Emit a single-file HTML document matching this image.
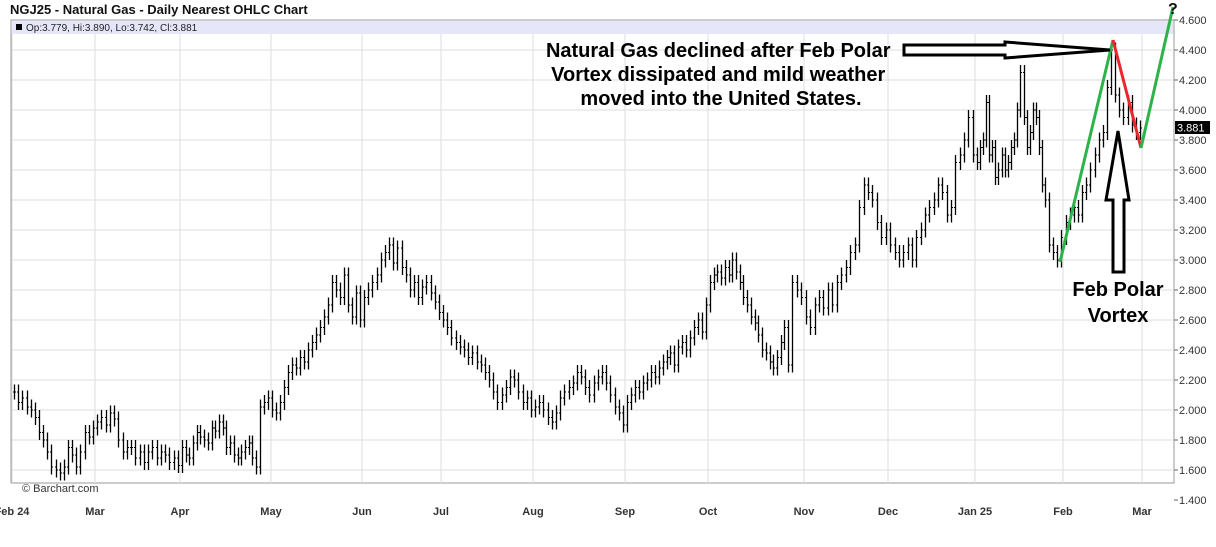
<!DOCTYPE html>
<html><head><meta charset="utf-8"><style>
body{margin:0;background:#fff;font-family:"Liberation Sans",sans-serif;}
svg text{font-family:"Liberation Sans",sans-serif;}
</style></head><body>
<svg width="1216" height="542" xmlns="http://www.w3.org/2000/svg">
<text x="10" y="14" font-size="13" font-weight="bold" fill="#111">NGJ25 - Natural Gas - Daily Nearest OHLC Chart</text>
<rect x="11" y="20" width="1163" height="463" fill="#fff" stroke="#999"/>
<rect x="12" y="21" width="1161" height="13" fill="#e6e6fa"/>
<rect x="16" y="24" width="6" height="6" fill="#000"/>
<text x="26" y="31" font-size="10" fill="#222">Op:3.779, Hi:3.890, Lo:3.742, Cl:3.881</text>
<g id="grid"></g>
<g id="bars"></g>
<g id="axis"></g>
<text x="22" y="492" font-size="11" fill="#333">© Barchart.com</text>
<g>
<rect x="1175" y="121" width="35" height="13" fill="#000"/>
<text x="1177" y="131.5" font-size="11" fill="#fff">3.881</text>
<polyline points="1060,262 1113,40" stroke="#2db34a" stroke-width="3" fill="none"/>
<polyline points="1113,40 1141,148" stroke="#e8282d" stroke-width="3" fill="none"/>
<polyline points="1141,148 1173,7" stroke="#2db34a" stroke-width="3" fill="none"/>
<text x="1168" y="14" font-size="16" font-weight="bold" fill="#111">?</text>
<polygon points="904,45 1005,45 1005,42 1110,50 1005,58 1005,55 904,55" fill="#fff" stroke="#000" stroke-width="3"/>
<polygon points="1113,272 1113,200 1106,200 1118,131 1129,200 1124,200 1124,272" fill="#fff" stroke="#000" stroke-width="3"/>
<text font-size="20" font-weight="bold" fill="#000" text-anchor="middle">
<tspan x="721" y="57">Natural Gas declined after Feb Polar</tspan>
<tspan x="721" y="81">Vortex dissipated and mild weather</tspan>
<tspan x="721" y="105">moved into the United States.</tspan></text>
<text font-size="20" font-weight="bold" fill="#000" text-anchor="middle">
<tspan x="1118" y="296">Feb Polar</tspan><tspan x="1118" y="322">Vortex</tspan></text>
</g>
</svg>
<script>
const months=["Feb 24","Mar","Apr","May","Jun","Jul","Aug","Sep","Oct","Nov","Dec","Jan 25","Feb","Mar"];
const monthLabelX=[12,95,180,271,362,441,533,625,708,804,888,975,1063,1142];
const monthX=[12,95,180,258,362,441,533,625,708,790,888,975,1047,1142];
const yTicks=[1.4,1.6,1.8,2.0,2.2,2.4,2.6,2.8,3.0,3.2,3.4,3.6,3.8,4.0,4.2,4.4,4.6];
const closesByMonth=[
[2.12,2.05,2.08,2.02,2.00,1.95,1.85,1.80,1.72,1.62,1.60,1.58,1.62,1.75,1.70,1.62,1.72,1.85,1.82,1.88],
[1.92,1.95,1.90,1.98,1.94,1.80,1.72,1.75,1.75,1.68,1.72,1.65,1.72,1.75,1.68,1.72,1.70,1.65,1.68,1.63],
[1.75,1.70,1.68,1.78,1.85,1.82,1.80,1.78,1.88,1.86,1.92,1.88,1.75,1.78,1.70,1.68,1.72,1.75,1.78,1.68,1.62],
[2.02,2.05,2.08,2.00,1.98,2.05,2.15,2.25,2.30,2.28,2.35,2.32,2.40,2.45,2.50,2.55,2.62,2.70,2.85,2.80,2.75,2.90,2.70,2.62,2.78,2.60],
[2.75,2.80,2.85,2.90,3.00,3.05,3.10,2.98,3.08,2.95,2.90,2.80,2.85,2.75,2.82,2.85,2.78,2.72,2.65],
[2.60,2.55,2.48,2.45,2.42,2.40,2.35,2.38,2.32,2.30,2.25,2.20,2.12,2.05,2.10,2.15,2.22,2.20,2.12,2.05,2.08,2.00],
[2.02,2.05,2.00,1.95,1.92,1.98,2.08,2.12,2.15,2.18,2.25,2.22,2.15,2.10,2.18,2.22,2.25,2.18,2.10,2.02,1.98,1.90],
[2.05,2.10,2.15,2.12,2.18,2.20,2.25,2.22,2.28,2.32,2.35,2.38,2.30,2.42,2.45,2.40,2.48,2.55,2.60,2.52,2.70],
[2.85,2.90,2.92,2.88,2.95,2.90,3.00,2.92,2.85,2.75,2.70,2.62,2.58,2.50,2.40,2.38,2.32,2.28,2.35,2.45,2.55,2.30],
[2.85,2.80,2.75,2.62,2.55,2.70,2.75,2.68,2.80,2.70,2.85,2.90,2.95,3.05,3.10,3.35,3.50,3.45,3.40,3.25,3.15,3.20],
[3.10,3.05,3.00,3.05,3.10,3.00,3.15,3.20,3.30,3.35,3.40,3.50,3.45,3.30,3.35,3.65,3.70,3.80,3.95,3.70],
[3.65,3.75,3.80,4.05,3.70,3.75,3.55,3.60,3.70,3.60,3.65,3.75,3.80,4.00,4.25,3.95,3.75,3.85,4.00,3.95,3.75,3.50,3.40],
[3.10,3.05,3.00,3.15,3.25,3.30,3.35,3.30,3.45,3.50,3.60,3.70,3.80,3.85,4.15,4.40,4.10,4.00,3.95,4.05,3.90,3.85,3.88]
];
const NS="http://www.w3.org/2000/svg";
const yS=v=>20+(4.6-v)*150;
function mk(t,a,p){const e=document.createElementNS(NS,t);for(const k in a)e.setAttribute(k,a[k]);p.appendChild(e);return e;}
const grid=document.getElementById('grid'),axis=document.getElementById('axis'),bars=document.getElementById('bars');
yTicks.forEach(v=>{
 const y=yS(v);
 if(y>21&&y<483){const l=mk('line',{x1:12,x2:1174,y1:y,y2:y,stroke:'#ddd'},grid);
 
 }
 const tk=mk('line',{x1:1174,x2:1178,y1:y,y2:y,stroke:'#666'},axis);
 
 
 const t=mk('text',{x:1179,y:y+4,'font-size':11,fill:'#333'},axis);t.textContent=v.toFixed(3);
 
 
});
months.forEach((m,i)=>{
 const x=monthLabelX[i];
 const l=mk('line',{x1:x,x2:x,y1:34,y2:483,stroke:'#ddd'},grid);
 
 
 const t=mk('text',{x:x,y:515,'font-size':11,'font-weight':'bold',fill:'#333','text-anchor':'middle'},axis);t.textContent=m;
 
 
});
let prev=closesByMonth[0][0];
closesByMonth.forEach((arr,m)=>{
 const x0=monthX[m],x1=monthX[m+1];
 arr.forEach((c,k)=>{
  const x=Math.round(x0+(k+0.5)/arr.length*(x1-x0))+0.5;
  const o=prev;const hi=Math.max(o,c)+0.05,lo=Math.min(o,c)-0.05;
  const g=mk('g',{stroke:'#000','stroke-width':1},bars);
  
  
  mk('line',{x1:x,x2:x,y1:yS(hi),y2:yS(lo),'stroke-width':1.3},g);
  mk('line',{x1:x-1.5,x2:x,y1:yS(o),y2:yS(o)},g);
  mk('line',{x1:x,x2:x+1.5,y1:yS(c),y2:yS(c)},g);
  prev=c;
 });
});
</script>
</body></html>
